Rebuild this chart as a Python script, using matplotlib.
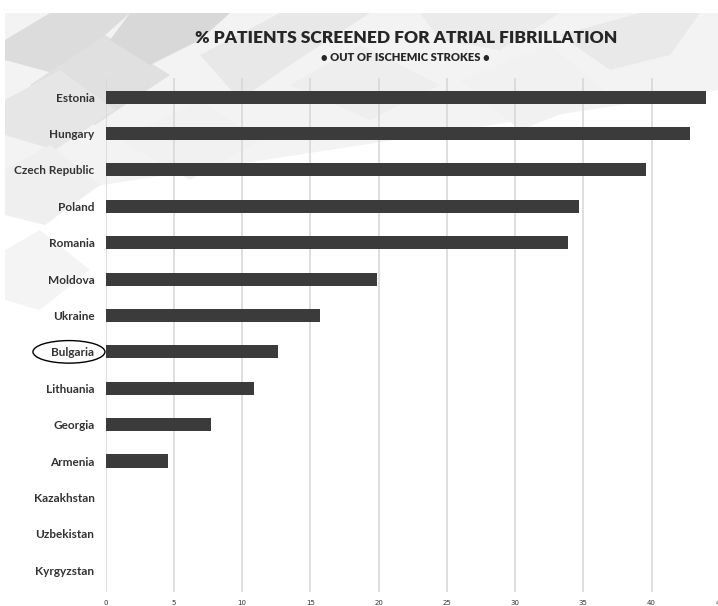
import matplotlib
matplotlib.use("Agg")
import matplotlib.pyplot as plt
from matplotlib.patches import Ellipse, Polygon
from matplotlib.transforms import blended_transform_factory

countries = ["Estonia", "Hungary", "Czech Republic", "Poland", "Romania",
             "Moldova", "Ukraine", "Bulgaria", "Lithuania", "Georgia",
             "Armenia", "Kazakhstan", "Uzbekistan", "Kyrgyzstan"]
screened_pct = [44.0, 42.8, 39.6, 34.7, 33.9, 19.9, 15.7, 12.6, 10.9, 7.7,
                4.6, 0, 0, 0]
x_ticks = [0, 5, 10, 15, 20, 25, 30, 35, 40, 45]
highlight = "Bulgaria"

title = "% PATIENTS SCREENED FOR ATRIAL FIBRILLATION"
subtitle = "\u2022 OUT OF ISCHEMIC STROKES \u2022"

fig = plt.figure(figsize=(7.18, 6.06), dpi=100)
fig.patch.set_facecolor("white")

# soft diagonal tiles behind the chart (pixel space, y down)
bg = fig.add_axes([0, 0, 1, 1], zorder=-5)
bg.set_xlim(0, 718)
bg.set_ylim(606, 0)
bg.axis("off")
tiles = [
    ([(5, 13), (718, 13), (718, 90), (5, 200)], "#f3f3f3"),
    ([(5, 40), (50, 13), (130, 13), (60, 75), (5, 60)], "#dcdcdc"),
    ([(30, 85), (105, 35), (170, 75), (95, 125)], "#e0e0e0"),
    ([(130, 13), (230, 13), (200, 40), (150, 65), (110, 40)], "#d8d8d8"),
    ([(5, 100), (60, 70), (115, 110), (55, 150), (5, 135)], "#e6e6e6"),
    ([(200, 55), (280, 13), (370, 13), (290, 65), (240, 100)], "#e8e8e8"),
    ([(290, 85), (360, 45), (440, 85), (370, 120)], "#eeeeee"),
    ([(420, 13), (560, 13), (500, 50), (440, 40)], "#ebebeb"),
    ([(560, 35), (640, 13), (700, 13), (670, 55), (610, 70)], "#e9e9e9"),
    ([(5, 170), (50, 145), (100, 185), (45, 225), (5, 215)], "#efefef"),
    ([(120, 140), (200, 100), (260, 140), (190, 180)], "#f1f1f1"),
    ([(460, 80), (550, 45), (610, 95), (520, 130)], "#f1f1f1"),
    ([(5, 250), (40, 230), (90, 270), (40, 310), (5, 300)], "#f4f4f4"),
]
for pts, col in tiles:
    bg.add_patch(Polygon(pts, closed=True, fc=col, ec="none"))

ax = fig.add_axes([0.147, 0.023, 0.8556, 0.848])
ax.set_facecolor("none")

ypos = list(range(len(countries)))
ax.barh(ypos, screened_pct, height=0.36, color="#3b3b3b", zorder=3)

ax.set_xlim(0, 45)
ax.set_ylim(len(countries) - 0.4, -0.52)
ax.set_xticks(x_ticks)
ax.set_xticklabels([str(t) for t in x_ticks], fontsize=5, color="#333333")
ax.set_yticks(ypos)
ax.set_yticklabels(countries, fontsize=8.5, color="#333333",
                   family=["Lato", "DejaVu Sans"], fontweight="bold")
ax.tick_params(length=0, pad=8, axis="y")
ax.tick_params(length=0, pad=6, axis="x")
ax.grid(axis="x", color="#d6d6d6", linewidth=1.1, zorder=0)
ax.grid(axis="y", visible=False)
for s in ax.spines.values():
    s.set_visible(False)

fig.text(0.566, 0.938, title, ha="center", va="center", fontsize=12.5,
         fontweight="heavy", color="#262626",
         family=["Lato", "DejaVu Sans"])
fig.text(0.565, 0.905, subtitle, ha="center", va="center", fontsize=8,
         fontweight="heavy", color="#262626",
         family=["Lato", "DejaVu Sans"])

# ring around the highlighted country label
trans = blended_transform_factory(fig.transFigure, ax.transData)
ax.add_patch(Ellipse((0.096, countries.index(highlight)), 0.1003, 0.62,
                     transform=trans, fill=False, ec="black", lw=1.0,
                     clip_on=False))

fig.savefig("out.png", dpi=100)
